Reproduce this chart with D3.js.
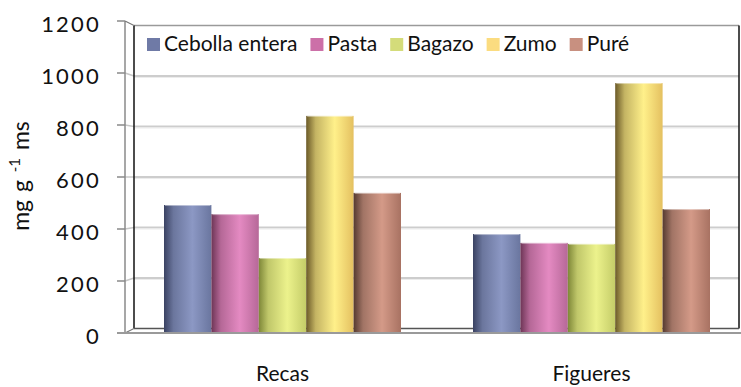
<!DOCTYPE html>
<html>
<head>
<meta charset="utf-8">
<script src="https://cdn.jsdelivr.net/npm/d3@7/dist/d3.min.js"></script>
<style>
  html, body { margin: 0; padding: 0; background: #fff; }
  svg { display: block; }
  text { font-family: Lato, "Open Sans", sans-serif; fill: #111; }
</style>
</head>
<body>
<svg id="chart" width="741" height="387"></svg>
<script>
// Sites and sample types
const categories = ["Recas", "Figueres"];
const series = ["Cebolla entera", "Pasta", "Bagazo", "Zumo", "Puré"];

// mg g-1 ms per sample type, one array per site
const recasValues = [489, 453, 279, 842, 537];
const figueresValues = [374, 339, 335, 972, 473];

const yTicks = [0, 200, 400, 600, 800, 1000, 1200];

// colours: legend swatch, and dark / light / mid stops for the cylinder shading
const swatchColors = ["#6f7aa6", "#cc70a8", "#d4dc7a", "#fbdc80", "#c89080"];
const darkStops  = ["#3a4262", "#6e3556", "#7e8738", "#6b5a28", "#553a30"];
const lightStops = ["#8c98c4", "#e48ac2", "#ecf28c", "#fff08a", "#d49a88"];
const midStops   = ["#6a769f", "#b66898", "#c4cc68", "#e4c060", "#a87262"];

const values = [recasValues, figueresValues];

const svg = d3.select("#chart");
const defs = svg.append("defs");

// back wall and front edge geometry (3D look)
const wallLeft = 134, wallRight = 739;
const frontX = 125, tickX0 = 117;
const yBack = d3.scaleLinear().domain([0, 1200]).range([328.5, 25.5]);
const yFront = d3.scaleLinear().domain([0, 1200]).range([333, 21]);
const barBase = 332;

// horizontal gradients for the cylinders
series.forEach((s, i) => {
  const g = defs.append("linearGradient")
    .attr("id", "cyl" + i).attr("x1", "0%").attr("x2", "100%").attr("y1", "0%").attr("y2", "0%");
  g.append("stop").attr("offset", "0%").attr("stop-color", darkStops[i]);
  g.append("stop").attr("offset", "20%").attr("stop-color", d3.interpolateRgb(darkStops[i], lightStops[i])(0.6));
  g.append("stop").attr("offset", "60%").attr("stop-color", lightStops[i]);
  g.append("stop").attr("offset", "100%").attr("stop-color", midStops[i]);
});

// gridlines on the back wall, with short connectors to the front axis
const grid = svg.append("g");
yTicks.forEach(v => {
  if (v === 0 || v === 1200) return;
  grid.append("line")
    .attr("x1", wallLeft).attr("x2", wallRight)
    .attr("y1", yBack(v)).attr("y2", yBack(v))
    .attr("stroke", "#cdcdcd").attr("stroke-width", 2);
  grid.append("line")
    .attr("x1", wallLeft).attr("x2", wallRight)
    .attr("y1", yBack(v) + 1.5).attr("y2", yBack(v) + 1.5)
    .attr("stroke", "#ececec").attr("stroke-width", 1);
  grid.append("line")
    .attr("x1", frontX).attr("x2", wallLeft)
    .attr("y1", yFront(v)).attr("y2", yBack(v))
    .attr("stroke", "#c8c8c8").attr("stroke-width", 1.5);
});

// walls and floor edges
const frame = svg.append("g").attr("fill", "none");
frame.append("line").attr("x1", wallLeft).attr("x2", wallRight)
  .attr("y1", yBack(1200)).attr("y2", yBack(1200)).attr("stroke", "#9a9a9a").attr("stroke-width", 1.5);
frame.append("line").attr("x1", wallLeft).attr("x2", wallLeft)
  .attr("y1", yBack(1200)).attr("y2", yBack(0)).attr("stroke", "#111").attr("stroke-width", 1.5);
frame.append("line").attr("x1", wallRight).attr("x2", wallRight)
  .attr("y1", yBack(1200)).attr("y2", yBack(0)).attr("stroke", "#111").attr("stroke-width", 1.5);
frame.append("line").attr("x1", wallLeft).attr("x2", wallRight)
  .attr("y1", yBack(0)).attr("y2", yBack(0)).attr("stroke", "#555").attr("stroke-width", 1.5);
frame.append("line").attr("x1", frontX).attr("x2", frontX)
  .attr("y1", yFront(1200)).attr("y2", yFront(0)).attr("stroke", "#8a8a8a").attr("stroke-width", 1.5);
frame.append("line").attr("x1", frontX).attr("x2", wallLeft)
  .attr("y1", yFront(1200)).attr("y2", yBack(1200)).attr("stroke", "#777").attr("stroke-width", 1.2);
frame.append("line").attr("x1", frontX).attr("x2", wallLeft)
  .attr("y1", yFront(0)).attr("y2", yBack(0)).attr("stroke", "#777").attr("stroke-width", 1.2);

// front axis ticks and labels
const axis = svg.append("g");
yTicks.forEach(v => {
  axis.append("line").attr("x1", tickX0).attr("x2", frontX)
    .attr("y1", yFront(v)).attr("y2", yFront(v))
    .attr("stroke", "#8a8a8a").attr("stroke-width", 1.5);
  axis.append("text")
    .attr("x", 101).attr("y", yFront(v) + 2.5)
    .attr("text-anchor", "end").attr("dominant-baseline", "central")
    .attr("font-size", 22).attr("letter-spacing", 2.2)
    .text(d3.format("d")(v));
});

// bars
const x0 = d3.scaleBand().domain(categories).range([128, 746])
  .paddingInner(0.233).paddingOuter(0.1165);
const x1 = d3.scaleBand().domain(series).range([0, x0.bandwidth()]);

const groups = svg.append("g").selectAll("g")
  .data(categories).join("g")
  .attr("transform", c => `translate(${x0(c)},0)`);

groups.each(function(c, ci) {
  const g = d3.select(this);
  series.forEach((s, si) => {
    const v = values[ci][si];
    const top = yBack(v);
    g.append("rect")
      .attr("x", x1(s)).attr("width", x1.bandwidth())
      .attr("y", top).attr("height", barBase - top)
      .attr("fill", `url(#cyl${si})`);
    g.append("line")
      .attr("x1", x1(s) + 1).attr("x2", x1(s) + x1.bandwidth() - 1)
      .attr("y1", top + 0.5).attr("y2", top + 0.5)
      .attr("stroke", "#ffffff").attr("stroke-opacity", 0.45).attr("stroke-width", 1);
  });
});

// front floor edge drawn over the bar bases
svg.append("line").attr("x1", tickX0).attr("x2", 741)
  .attr("y1", yFront(0)).attr("y2", yFront(0))
  .attr("stroke", "#9a9a9a").attr("stroke-width", 2);

// category labels
svg.append("g").selectAll("text")
  .data(categories).join("text")
  .attr("x", c => x0(c) + x0.bandwidth() / 2)
  .attr("y", 381)
  .attr("text-anchor", "middle")
  .attr("font-size", 21)
  .text(c => c);

// y-axis title with superscript
const title = svg.append("text")
  .attr("transform", "translate(29,176) rotate(-90)")
  .attr("text-anchor", "middle")
  .attr("font-size", 23)
  .attr("word-spacing", 2);
title.append("tspan").text("mg g ");
title.append("tspan").attr("font-size", 15).attr("dy", -9).text("-1");
title.append("tspan").attr("dy", 9).text(" ms");

// legend across the top of the plot
const legend = svg.append("g");
let lx = 147;
series.forEach((s, i) => {
  legend.append("rect").attr("x", lx).attr("y", 38).attr("width", 13).attr("height", 13)
    .attr("fill", swatchColors[i]);
  const t = legend.append("text").attr("x", lx + 17).attr("y", 51)
    .attr("font-size", 21).text(s);
  lx += 17 + t.node().getComputedTextLength() + 13;
});
</script>
</body>
</html>
